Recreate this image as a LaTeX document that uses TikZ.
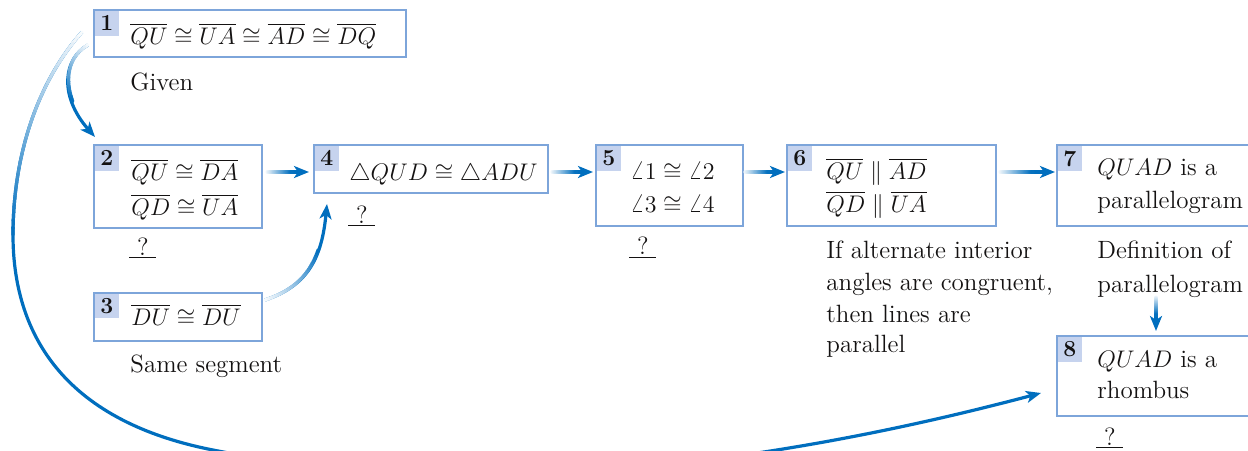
\documentclass[tikz,border=0pt]{standalone}
\usetikzlibrary{arrows.meta,calc}
\definecolor{arrowblue}{RGB}{0,110,190}
\definecolor{boxblue}{RGB}{125,165,218}
\definecolor{tabfill}{RGB}{198,211,238}
\definecolor{ink}{RGB}{20,18,18}
\newcommand\qmark{\underline{\makebox[13.5pt]{?}}}
% overlay a fading (white -> blue) tint on the first part of a path
\newcommand\fadeover[3]{%
  \foreach \k in {1,...,30}{%
    \pgfmathsetmacro\ta{(\k-1)/30*#2}%
    \pgfmathsetmacro\tb{min(1,\k/30*#2+0.004)}%
    \pgfmathtruncatemacro\pc{#3+(100-#3)*(\k-0.5)/30}%
    \path #1 coordinate[pos=\ta] (fa) coordinate[pos=\tb] (fb);
    \draw[conn, line cap=round, draw=arrowblue!\pc] (fa) -- (fb);
  }}
\newcommand\fadeconn[3]{%
  \draw[conn, tip] #1;
  \fadeover{#1}{#2}{#3}}
\tikzset{
  box/.style 2 args={draw=boxblue, line width=1.1pt, minimum width=#1*0.5pt,
    minimum height=#2*0.5pt, anchor=north west, inner sep=0pt, outer sep=0pt},
  tab/.style={fill=tabfill, minimum width=12pt, minimum height=12.5pt, anchor=north west,
    inner sep=0pt, text=ink, font=\fontsize{11.5}{13}\selectfont\bfseries},
  txt/.style={anchor=base west, inner sep=0pt, text=ink, font=\fontsize{12.5}{16}\selectfont},
  conn/.style={draw=arrowblue, line width=1.6pt},
  tip/.style={-{Stealth[length=7.5pt,width=6pt,inset=2pt]}},
}
\begin{document}
\begin{tikzpicture}[x=0.5pt,y=-0.5pt]
\useasboundingbox (0,0) rectangle (1248,450);
\clip (0,0) rectangle (1248,450);

% tabs
\node[tab] (n1) at (94.5,10.5) {1};
\node[tab] (n2) at (94.5,145.5) {2};
\node[tab] (n3) at (94.5,293) {3};
\node[tab] (n4) at (314.5,145.5) {4};
\node[tab] (n5) at (596.5,145.5) {5};
\node[tab] (n6) at (787.5,145.5) {6};
\node[tab] (n7) at (1057.5,145.5) {7};
\node[tab] (n8) at (1057.5,336.5) {8};

% boxes
\node[box={312}{47}] (b1) at (94,10) {};
\node[box={168}{83}] (b2) at (94,145) {};
\node[box={168}{48}] (b3) at (94,293) {};
\node[box={234}{48}] (b4) at (314,145) {};
\node[box={147}{81}] (b5) at (596,145) {};
\node[box={209}{81}] (b6) at (787,145) {};
\node[box={210}{81}] (b7) at (1057,145) {};
\node[box={210}{80}] (b8) at (1057,336) {};

% texts
\node[txt] (t1) at (130,44) {$\overline{QU}\cong\overline{UA}\cong\overline{AD}\cong\overline{DQ}$};
\node[txt] (r1) at (130,90) {Given};
\node[txt] (t2a) at (131,180) {$\overline{QU}\cong\overline{DA}$};
\node[txt] (t2b) at (131,215) {$\overline{QD}\cong\overline{UA}$};
\node[txt] (q2) at (129,255) {\qmark};
\node[txt] (t3) at (131,325) {$\overline{DU}\cong\overline{DU}$};
\node[txt] (r3) at (130,372) {Same segment};
\node[txt] (t4) at (349,180) {$\triangle QUD\cong\triangle ADU$};
\node[txt] (q4) at (348,223) {\qmark};
\node[txt] (t5a) at (630,179) {$\angle 1\cong\angle 2$};
\node[txt] (t5b) at (630,212) {$\angle 3\cong\angle 4$};
\node[txt] (q5) at (629,254.5) {\qmark};
\node[txt] (t6a) at (826,179) {$\overline{QU}\parallel\overline{AD}$};
\node[txt] (t6b) at (826,212) {$\overline{QD}\parallel\overline{UA}$};
\node[txt] (r6a) at (826,258) {If alternate interior};
\node[txt] (r6b) at (826,290) {angles are congruent,};
\node[txt] (r6c) at (826,322) {then lines are};
\node[txt] (r6d) at (826,352) {parallel};
\node[txt] (t7a) at (1097,175) {$QUAD$ is a};
\node[txt] (t7b) at (1097,208) {parallelogram};
\node[txt] (r7a) at (1097,258) {Definition of};
\node[txt] (r7b) at (1097,292) {parallelogram};
\node[txt] (t8a) at (1097,367) {$QUAD$ is a};
\node[txt] (t8b) at (1097,398) {rhombus};
\node[txt] (q8) at (1096,445) {\qmark};

% connector end points
\coordinate (s12) at (88,45);   \coordinate (e12) at (95,137);
\coordinate (s34) at (265,300); \coordinate (e34) at (327,204);
\coordinate (s24) at (267,172); \coordinate (e24) at (309,172);
\coordinate (s45) at (552,172); \coordinate (e45) at (593,172);
\coordinate (s56) at (745,172); \coordinate (e56) at (785,172);
\coordinate (s67) at (1000,172); \coordinate (e67) at (1055,172);
\coordinate (s78) at (1156,297); \coordinate (e78) at (1156,331);
\coordinate (s18) at (82,32);   \coordinate (e18) at (1041,393);
\coordinate (m18) at (13,235);

% connectors
\fadeconn{(s12) .. controls (64,58) and (58,95) .. (e12)}{0.7}{2}
\fadeconn{(s34) .. controls (310,285) and (322,255) .. (e34)}{0.65}{2}
\fadeconn{(s24) -- (e24)}{0.6}{4}
\fadeconn{(s45) -- (e45)}{0.6}{4}
\fadeconn{(s56) -- (e56)}{0.6}{4}
\fadeconn{(s67) -- (e67)}{0.6}{4}
\fadeconn{(s78) -- (e78)}{0.55}{4}
\draw[conn, tip] (s18) .. controls (35,85) and (13,160) .. (m18)
  .. controls (13,330) and (60,420) .. (213,450)
  .. controls (335,474) and (600,510) .. (e18);
\fadeover{(s18) .. controls (35,85) and (13,160) .. (m18)}{1}{2}
\end{tikzpicture}
\end{document}
